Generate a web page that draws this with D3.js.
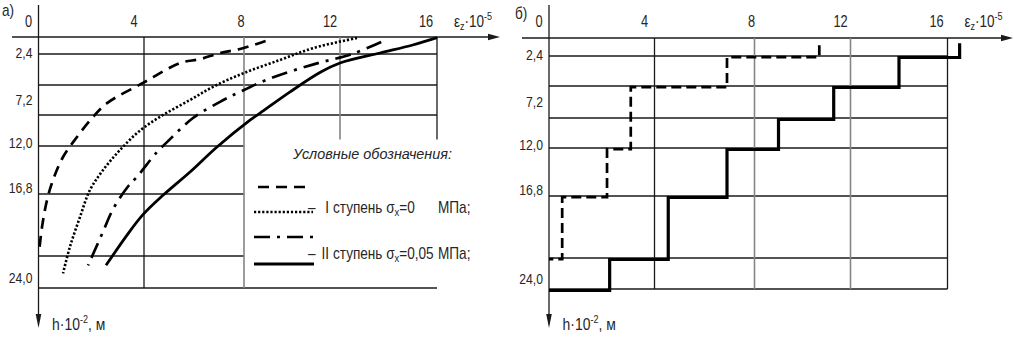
<!DOCTYPE html>
<html><head><meta charset="utf-8">
<script src="https://cdn.jsdelivr.net/npm/d3@7"></script>
<style>
body{margin:0;background:#fff}
svg text{font-family:"Liberation Sans",Arial,sans-serif;fill:#262626}
</style>
</head><body>
<svg id="c" width="1014" height="340"></svg>
<script>
// ---------------- DATA ----------------
const xTickValues = [0, 4, 8, 12, 16];
const xTickLabels = ["0", "4", "8", "12", "16"];
const depthLines = [0, 2.4, 4.8, 9.6, 12.0, 16.8, 21.6, 24.0];
const depthLabelValues = [2.4, 7.2, 12.0, 16.8, 24.0];
const depthLabelTexts = ["2,4", "7,2", "12,0", "16,8", "24,0"];
const panelLabels = ["а)", "б)"];
const legendTitle = "Условные обозначения:";
const legendStages = ["I", "II"];
const legendWord = "ступень";
const legendSigma = ["=0", "=0,05"];
const legendUnit = "МПа;";

// panel а: [εz·10^5, h·10^2]
const curveDashA = [[8.9,0.56],[7.84,1.7],[7.04,2.26],[6.24,2.8],[5.44,3.1],[4.0,4.6],[2.6,7.7],[2.07,9.75],[1.46,11.3],[0.93,13.1],[0.55,15.4],[0.32,17.3],[0.13,19.4],[0.02,21.3]];
const curveDotA = [[12.7,0.14],[10.9,1.55],[9.5,2.86],[7.96,3.9],[6.76,5.1],[5.84,7.2],[4.76,9.6],[3.85,10.8],[3.09,12.4],[2.45,14.4],[1.95,16.4],[1.57,18.6],[1.19,20.9],[0.93,22.9]];
const curveDashDotA = [[13.7,0.7],[12.5,2.4],[10.9,3.2],[9.08,4.3],[7.84,5.9],[7.04,7.5],[5.96,9.83],[4.92,11.7],[4.52,12.6],[3.73,15.1],[3.35,16.2],[2.82,18.0],[2.45,19.7],[1.88,22.3]];
const curveSolidA = [[16.0,0.1],[15.0,1.13],[13.65,2.26],[12.0,3.1],[11.2,3.8],[9.92,5.9],[8.67,9.3],[8.25,10.0],[6.92,12.1],[5.84,14.6],[4.76,16.9],[3.96,18.4],[3.35,20.0],[2.56,22.3]];

// panel б: step profiles
const stepDashB = [[10.7,0.8],[6.9,2.4],[3.1,4.8],[3.1,9.6],[2.2,12.0],[0.5,16.8],[0,21.6]];
const stepSolidB = [[16.5,0.5],[14.0,2.4],[11.3,4.8],[9.0,9.6],[6.9,12.0],[4.55,16.8],[2.3,21.6],[0,24.0]];

// ---------------- LAYOUT ----------------
const svg = d3.select("#c");
const colStops = [0, 105.5, 205.5, 301.5, 398.5];
const panels = [
  {ox: 38.5, top: 37, rows: [0,17,48,78,109,157,219,251]},
  {ox: 549, top: 38, rows: [0,18,48,80,110,158,220,251]}
];
panels.forEach(p => {
  p.x = d3.scaleLinear().domain(xTickValues).range(colStops.map(s => p.ox + s));
  p.y = d3.scaleLinear().domain(depthLines).range(p.rows.map(r => p.top + r));
});
const gridDark = "#1a1a1a", gridGrey = "#858585";
const tickDx = [-10, -10, -3, -10, -11];
const depthDy = [4, 5, 2, -1, -5];

function line(g, x1, y1, x2, y2, color, w) {
  g.append("line").attr("x1", x1).attr("y1", y1).attr("x2", x2).attr("y2", y2)
    .attr("stroke", color || gridDark).attr("stroke-width", w || 1.3);
}
// condensed text: a group scaled horizontally
function ctext(g, x, y, size, anchor, sx) {
  const gg = g.append("g").attr("transform", `translate(${x},${y}) scale(${sx},1)`);
  return gg.append("text").attr("x", 0).attr("y", 0).attr("font-size", size)
    .attr("text-anchor", anchor || "start");
}

function drawFrame(p, idx) {
  const g = svg.append("g");
  const x = p.x, y = p.y;
  const xMax = x(16), yBot = y(24);
  depthLines.forEach((d, i) => {
    if (i === 0) {
      const x0 = idx === 0 ? 12 : 522;
      const xa = idx === 0 ? 500 : 1013;
      line(g, x0, y(d), xa - 8, y(d));
      g.append("path").attr("d", `M${xa},${y(d)} L${xa-12},${y(d)-3.2} L${xa-12},${y(d)+3.2} Z`).attr("fill", gridDark);
      return;
    }
    let xe = xMax;
    if (idx === 0 && d > 11 && d < 23) xe = x(8);
    line(g, p.ox, y(d), xe, y(d));
  });
  xTickValues.forEach((v, i) => {
    if (i === 0) return;
    const grey = (v === 8 || v === 12);
    let ye = yBot;
    if (idx === 0 && v > 8) ye = y(11.5);
    line(g, x(v), y(0), x(v), ye, grey ? gridGrey : gridDark, grey ? 1.6 : 1.3);
  });
  line(g, p.ox, 5, p.ox, 318);
  g.append("path").attr("d", `M${p.ox},328 L${p.ox-2.8},314 L${p.ox+2.8},314 Z`).attr("fill", gridDark);
  xTickValues.forEach((v, i) => {
    ctext(g, x(v) + tickDx[i], 27, 16, "middle", 0.8).text(xTickLabels[i]);
  });
  depthLabelValues.forEach((d, i) => {
    ctext(g, p.ox - 6, y(d) + depthDy[i], 14.5, "end", 0.84).text(depthLabelTexts[i]);
  });
  ctext(g, idx === 0 ? 2 : 515, idx === 0 ? 16 : 19, 16, "start", 0.85).text(panelLabels[idx]);
  const tx = ctext(g, x(16) + 17, 27, 16.5, "start", 0.82);
  tx.append("tspan").text("ε");
  tx.append("tspan").attr("dy", 3).attr("font-size", 11).text("z");
  tx.append("tspan").attr("dy", -3).text("·10");
  tx.append("tspan").attr("dy", -7).attr("font-size", 11).text("-5");
  const ty = ctext(g, p.ox + 13.5, 330, 17, "start", 0.82);
  ty.append("tspan").text("h·10");
  ty.append("tspan").attr("dy", -7).attr("font-size", 11).text("-2");
  ty.append("tspan").attr("dy", 7).text(", м");
  return g;
}

const gA = drawFrame(panels[0], 0);
const gB = drawFrame(panels[1], 1);

// ---------- curves panel а ----------
const pA = panels[0];
const curveGen = d3.line().x(d => pA.x(d[0])).y(d => pA.y(d[1])).curve(d3.curveCatmullRom.alpha(0.5));
const styles = [
  {data: curveDashA, dash: "11,7", w: 2.7},
  {data: curveDotA, dash: "2.2,1.9", w: 2.6},
  {data: curveDashDotA, dash: "16,7,3,7", w: 2.7},
  {data: curveSolidA, dash: null, w: 2.8}
];
styles.forEach(s => {
  gA.append("path").attr("d", curveGen(s.data)).attr("fill", "none").attr("stroke", "#000")
    .attr("stroke-width", s.w).attr("stroke-dasharray", s.dash);
});

// ---------- legend ----------
const leg = gA.append("g");
ctext(leg, 372.5, 159, 15.5, "middle", 0.93).attr("font-style", "italic").text(legendTitle);
const legSamples = [
  {x1: 258, x2: 311, y: 187, s: styles[0]},
  {x1: 254, x2: 313, y: 212, s: styles[1]},
  {x1: 254, x2: 314, y: 237, s: styles[2]},
  {x1: 254, x2: 314, y: 264, s: styles[3]}
];
legSamples.forEach(l => {
  leg.append("line").attr("x1", l.x1).attr("x2", l.x2).attr("y1", l.y).attr("y2", l.y)
    .attr("stroke", "#000").attr("stroke-width", l.s.w).attr("stroke-dasharray", l.s.dash);
});
[213, 259].forEach((by, i) => {
  ctext(leg, 308, by, 16, "start", 0.85).text("–");
  ctext(leg, 329, by, 16, "end", 0.85).text(legendStages[i]);
  const t = ctext(leg, 333, by, 16, "start", 0.85);
  t.append("tspan").text(legendWord + " σ");
  t.append("tspan").attr("dy", 3).attr("font-size", 11).text("x");
  t.append("tspan").attr("dy", -3).text(legendSigma[i]);
  ctext(leg, 438, by, 16, "start", 0.85).text(legendUnit);
});

// ---------- steps panel б ----------
const pB = panels[1];
const stepGen = d3.line().x(d => pB.x(d[0])).y(d => pB.y(d[1])).curve(d3.curveStepBefore);
gB.append("path").attr("d", stepGen(stepDashB)).attr("fill", "none").attr("stroke", "#000")
  .attr("stroke-width", 2.7).attr("stroke-dasharray", "10,5").attr("transform", "translate(0,1.2)");
gB.append("path").attr("d", stepGen(stepSolidB)).attr("fill", "none").attr("stroke", "#000")
  .attr("stroke-width", 3.2).attr("transform", "translate(0,1.5)");
</script>
</body></html>
